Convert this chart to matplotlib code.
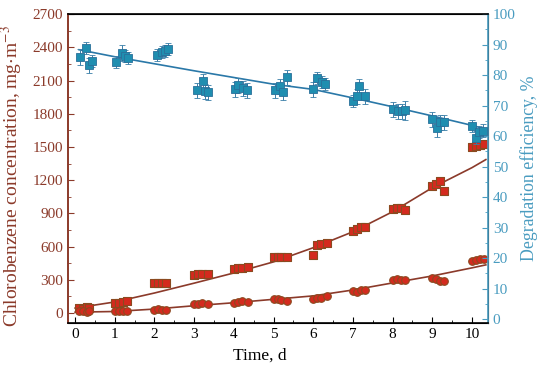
import numpy as np
import matplotlib.pyplot as plt
from matplotlib.ticker import MultipleLocator

plt.rcParams['font.family'] = ['Liberation Serif', 'DejaVu Serif']
plt.rcParams['mathtext.fontset'] = 'stix'

# chlorobenzene, upper series (squares)
up_t = [0.1, 0.2, 0.3, 0.35, 1.0, 1.1, 1.2, 1.3, 2.0, 2.1, 2.2, 2.3,
        3.0, 3.1, 3.2, 3.35, 4.0, 4.1, 4.2, 4.35, 5.0, 5.1, 5.2, 5.35,
        6.0, 6.1, 6.2, 6.35, 7.0, 7.1, 7.2, 7.3, 8.0, 8.1, 8.2, 8.3,
        9.0, 9.1, 9.2, 9.3, 10.0, 10.1, 10.2, 10.3]
up_c = [50, 40, 55, 45, 90, 95, 100, 105, 275, 270, 275, 270,
        340, 350, 350, 355, 400, 410, 410, 415, 510, 510, 505, 505,
        520, 610, 620, 630, 745, 760, 775, 780, 940, 950, 945, 935,
        1150, 1165, 1190, 1100, 1495, 1510, 1520, 1530]
up_fit_t = [0, 1, 2, 3, 4, 5, 6, 7, 8, 9, 10, 10.35]
up_fit_c = [45, 100, 181, 270, 362, 462, 590, 734, 915, 1132, 1313, 1386]

# chlorobenzene, lower series (circles)
lo_t = up_t
lo_c = [20, 15, 10, 15, 15, 18, 15, 20, 30, 35, 30, 28,
        80, 85, 90, 85, 95, 100, 105, 100, 130, 125, 120, 105,
        130, 135, 140, 150, 200, 190, 205, 210, 300, 305, 300, 300,
        320, 305, 290, 285, 470, 480, 490, 485]
lo_fit_t = [0, 1, 2, 3, 4, 5, 6, 7, 8, 9, 10, 10.35]
lo_fit_c = [8, 14, 36, 66, 93, 124, 155, 208, 272, 335, 408, 435]

# degradation efficiency (squares with error bars)
de_t = [0.13, 0.28, 0.35, 0.43, 1.03, 1.18, 1.26, 1.34, 2.06, 2.19, 2.27, 2.34,
        3.07, 3.22, 3.27, 3.35, 4.03, 4.1, 4.23, 4.33, 5.04, 5.16, 5.24, 5.34,
        6.0, 6.1, 6.22, 6.3, 7.0, 7.1, 7.15, 7.3, 8.0, 8.13, 8.23, 8.3,
        9.0, 9.12, 9.2, 9.3, 10.0, 10.1, 10.18, 10.28]
de_v = [85.9, 88.8, 83.2, 84.5, 84.2, 87.2, 86.2, 85.5, 86.5, 87.5, 87.8, 88.5,
        75.0, 78.0, 74.7, 74.3, 75.3, 76.6, 75.6, 75.0, 75.0, 76.3, 74.3, 79.3,
        75.3, 79.0, 77.6, 77.0, 71.4, 73.0, 76.3, 73.0, 68.8, 68.1, 68.1, 68.4,
        65.5, 62.8, 64.5, 64.5, 63.2, 59.5, 61.2, 61.8]
de_err = [2.5, 2.0, 2.5, 2.0, 2.0, 2.5, 2.0, 2.0, 2.0, 2.0, 2.0, 2.0,
          2.5, 2.5, 2.5, 2.5, 2.5, 2.5, 2.5, 2.5, 2.5, 2.5, 2.5, 2.5,
          2.5, 2.0, 2.0, 2.0, 2.0, 2.5, 2.5, 2.5, 2.5, 2.5, 2.5, 3.0,
          2.5, 3.0, 2.5, 2.5, 2.0, 2.0, 2.0, 2.0]
de_fit_t = [0.1, 1, 2, 3, 4, 5, 6, 7, 8, 9, 10, 10.4]
de_fit_v = [88.3, 86.0, 83.7, 81.4, 79.2, 77.0, 75.3, 72.5, 69.6, 66.6, 63.5, 62.1]

brown = '#8b3a2a'
red = '#d42a1e'
blue_ax = '#4a9cc0'
blue_mk = '#1f8eb0'
blue_ln = '#2a78a8'

fig = plt.figure(figsize=(5.5, 3.7), dpi=100)
ax = fig.add_axes([0.1236, 0.127, 0.7634, 0.835])
ax2 = ax.twinx()

ax.plot(up_fit_t, up_fit_c, color=brown, lw=1.2, zorder=2)
ax.plot(lo_fit_t, lo_fit_c, color=brown, lw=1.2, zorder=2)
ax.scatter(up_t, up_c, marker='s', s=30, c=red, edgecolors='#8b4a20', linewidths=0.8, zorder=3)
ax.scatter(lo_t, lo_c, marker='o', s=30, c=red, edgecolors='#8b4a20', linewidths=0.8, zorder=3)

ax2.plot(de_fit_t, de_fit_v, color=blue_ln, lw=1.2, zorder=2)
ax2.errorbar(de_t, de_v, yerr=de_err, fmt='s', ms=5.5, mfc=blue_mk, mec='#2a6f9a',
             mew=0.6, ecolor='#3a7fa8', elinewidth=0.7, capsize=2, zorder=3)

ax.set_xlim(-0.18, 10.4)
ax.set_ylim(-90, 2700)
ax2.set_ylim(-1.3, 100)

ax.xaxis.set_major_locator(MultipleLocator(1))
ax.xaxis.set_minor_locator(MultipleLocator(0.5))
ax.yaxis.set_major_locator(MultipleLocator(300))
ax.yaxis.set_minor_locator(MultipleLocator(150))
ax2.yaxis.set_major_locator(MultipleLocator(10))
ax2.yaxis.set_minor_locator(MultipleLocator(5))

ax.tick_params(axis='both', which='both', direction='in', labelsize=11)
ax.tick_params(axis='x', which='major', length=4)
ax.tick_params(axis='x', which='minor', length=2)
ax.tick_params(axis='y', which='major', length=4, colors=brown)
ax.tick_params(axis='y', which='minor', length=2, colors=brown)
ax2.tick_params(axis='y', which='both', direction='in', labelsize=11, colors=blue_ax)
ax2.tick_params(axis='y', which='major', length=4)
ax2.tick_params(axis='y', which='minor', length=2)

ax.spines['left'].set_color(brown)
ax.spines['left'].set_linewidth(1.2)
ax2.spines['left'].set_color(brown)
ax2.spines['left'].set_linewidth(1.2)
ax2.spines['right'].set_color(blue_ax)
ax2.spines['right'].set_linewidth(1.2)
ax2.spines['top'].set_linewidth(1.2)
ax2.spines['bottom'].set_linewidth(1.2)

ax.set_xlabel('Time, d', fontsize=12.5)
ax.set_ylabel('Chlorobenzene concentration, mg$\\cdot$m$^{-3}$', fontsize=14, color=brown)
ax2.set_ylabel('Degradation efficiency, %', fontsize=12.8, color=blue_ax)
ax.xaxis.set_label_coords(0.457, -0.081)
ax.yaxis.set_label_coords(-0.102, 0.476)
ax2.yaxis.set_label_coords(1.076, 0.5)

plt.savefig('out.png', dpi=100)
